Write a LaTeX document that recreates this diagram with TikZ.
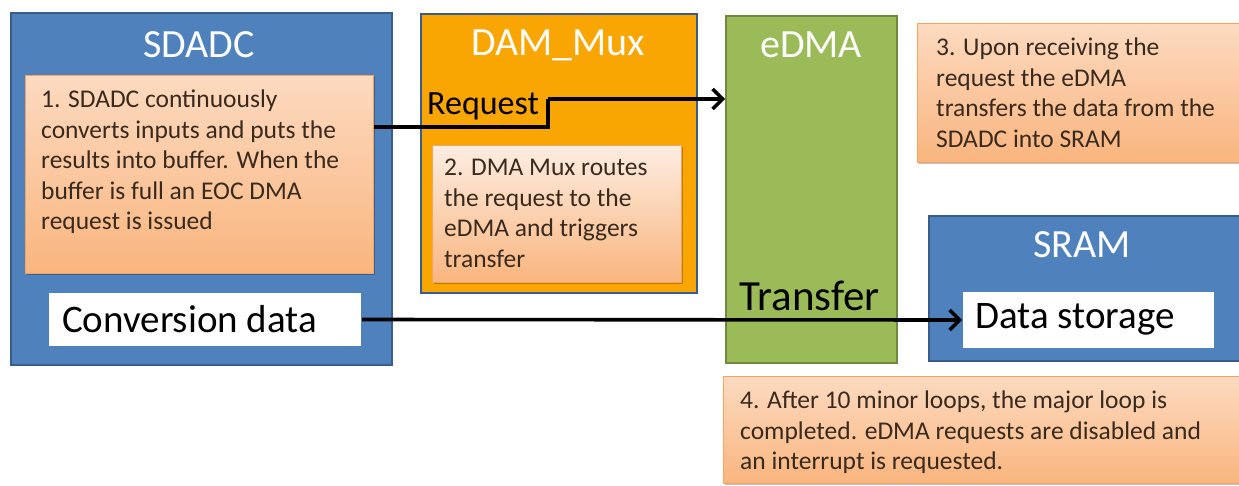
\documentclass[tikz,border=0pt]{standalone}
\usepackage{fontspec}
\setmainfont{Carlito}
\usetikzlibrary{arrows.meta,shadows}
\definecolor{bluefill}{HTML}{4F81BD}
\definecolor{blueedge}{HTML}{385D8A}
\definecolor{muxfill}{HTML}{F9A603}
\definecolor{greenfill}{HTML}{9BBB59}
\definecolor{greenedge}{HTML}{71893F}
\definecolor{notetop}{HTML}{FCDAC0}
\definecolor{notebot}{HTML}{F9B57E}
\definecolor{noteedge}{HTML}{F5A45F}
\definecolor{notetoplight}{HTML}{FDEDE2}
\definecolor{notetxt}{HTML}{3A2A1E}
\tikzset{
  blk/.style={rectangle, anchor=north west, inner sep=0pt, line width=2pt},
  bluebox/.style={blk, fill=bluefill, draw=blueedge},
  muxbox/.style={blk, fill=muxfill, draw=blueedge},
  greenbox/.style={blk, fill=greenfill, draw=greenedge},
  whitebox/.style={blk, fill=white, draw=none},
  notebox/.style={blk, line width=0.8pt, draw=noteedge, top color=notetop, bottom color=notebot,
     drop shadow={shadow xshift=1.5pt, shadow yshift=-1.5pt, fill=black, opacity=0.25}},
  title/.style={text=white, font=\fontsize{40}{44}\selectfont, inner sep=0pt},
  notetext/.style={anchor=north west, align=left, inner sep=0pt, text=notetxt,
     font=\fontsize{25.5}{30.5}\selectfont},
  biglabel/.style={inner sep=0pt, font=\fontsize{39}{42}\selectfont},
  arr/.style={line width=3.6pt, -{Straight Barb[length=10pt,width=20pt,line width=3.4pt]}},
  ln/.style={line width=3.6pt}
}
\begin{document}
\begin{tikzpicture}[x=1pt,y=-1pt]
\useasboundingbox (0,0) rectangle (1239,485);
% SDADC
\node[bluebox, minimum width=381pt, minimum height=352pt] (sdadc) at (10,12) {};
\node[title] (sdadct) at (199,45) {SDADC};
\node[notebox, minimum width=348pt, minimum height=198pt] (n1) at (25,75) {};
\node[notetext] (n1t) at (41,90) {1. SDADC continuously\\converts inputs and puts the\\results into buffer. When the\\buffer is full an EOC DMA\\request is issued};
\node[whitebox, minimum width=312pt, minimum height=53pt] (conv) at (48,292) {};
\node[biglabel, anchor=west] (convt) at (62,319) {Conversion data};
% DAM_Mux
\node[muxbox, minimum width=276pt, minimum height=279pt] (mux) at (420,13) {};
\node[title] (muxt) at (558,45) {DAM\_Mux};
\node[notebox, top color=notetoplight, minimum width=249pt, minimum height=137pt] (n2) at (432,145) {};
\node[notetext] (n2t) at (444,159) {2. DMA Mux routes\\the request to the\\eDMA and triggers\\transfer};
\node[inner sep=0pt, font=\fontsize{34}{38}\selectfont, anchor=west] (req) at (427,106) {Request};
% eDMA
\node[greenbox, minimum width=171pt, minimum height=347pt] (edma) at (725,15) {};
\node[title] (edmat) at (811,45) {eDMA};
\node[inner sep=0pt, font=\fontsize{43}{46}\selectfont, anchor=west] (trans) at (739,296) {Transfer};
% note 3
\node[notebox, minimum width=330pt, minimum height=139pt] (n3) at (917,23) {};
\node[notetext] (n3t) at (936,38) {3. Upon receiving the\\request the eDMA\\transfers the data from the\\SDADC into SRAM};
% SRAM
\node[bluebox, minimum width=320pt, minimum height=145pt] (sram) at (928,215) {};
\node[title] (sramt) at (1082,245) {SRAM};
\node[whitebox, minimum width=251pt, minimum height=56pt] (store) at (962,291) {};
\node[biglabel, anchor=west] (storet) at (975,319) {Data storage};
% note 4
\node[notebox, minimum width=530pt, minimum height=107pt] (n4) at (723,376) {};
\node[notetext] (n4t) at (740,391) {4. After 10 minor loops, the major loop is\\completed. eDMA requests are disabled and\\an interrupt is requested.};
% connectors
\coordinate (c1) at (548,127);
\coordinate (c2) at (548,99);
\draw[ln] ([yshift=-52pt]n1.north east) -- (c1) -- (c2);
\draw[arr] (c2) -- (c2 -| edma.west);
\draw[arr] (conv.east) -- (store.west);
\end{tikzpicture}
\end{document}
